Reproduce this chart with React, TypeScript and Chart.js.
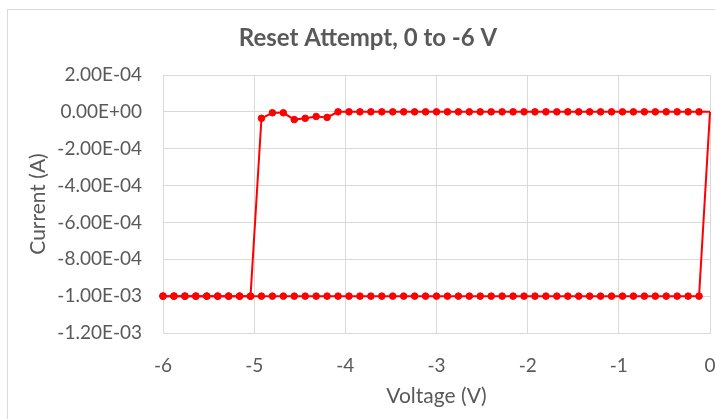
import React, { useEffect, useRef } from "react";
import { Chart, registerables } from "chart.js";

Chart.register(...registerables);

// Voltage steps of the forward sweep, 0 V down to -6 V
const sweepVoltage: number[] = [
  0, -0.12, -0.24, -0.36, -0.48, -0.6, -0.72, -0.84, -0.96, -1.08,
  -1.2, -1.32, -1.44, -1.56, -1.68, -1.8, -1.92, -2.04, -2.16, -2.28,
  -2.4, -2.52, -2.64, -2.76, -2.88, -3, -3.12, -3.24, -3.36, -3.48,
  -3.6, -3.72, -3.84, -3.96, -4.08, -4.2, -4.32, -4.44, -4.56, -4.68,
  -4.8, -4.92, -5.04, -5.16, -5.28, -5.4, -5.52, -5.64, -5.76, -5.88, -6,
];

// Current during the forward sweep (0 -> -6 V), same order as sweepVoltage
const forwardCurrent: number[] = [
  0, -1e-3, -1e-3, -1e-3, -1e-3, -1e-3, -1e-3, -1e-3, -1e-3, -1e-3,
  -1e-3, -1e-3, -1e-3, -1e-3, -1e-3, -1e-3, -1e-3, -1e-3, -1e-3, -1e-3,
  -1e-3, -1e-3, -1e-3, -1e-3, -1e-3, -1e-3, -1e-3, -1e-3, -1e-3, -1e-3,
  -1e-3, -1e-3, -1e-3, -1e-3, -1e-3, -1e-3, -1e-3, -1e-3, -1e-3, -1e-3,
  -1e-3, -1e-3, -1e-3, -1e-3, -1e-3, -1e-3, -1e-3, -1e-3, -1e-3, -1e-3, -1e-3,
];

// Voltage of the return sweep (-6 -> 0 V)
const returnVoltage: number[] = [...sweepVoltage].reverse();

// Current during the return sweep, same order as returnVoltage
const returnCurrent: number[] = [
  -1e-3, -1e-3, -1e-3, -1e-3, -1e-3, -1e-3, -1e-3, -1e-3, -1e-3,
  -3.5e-5, -5e-6, -5e-6, -4.2e-5, -3.5e-5, -2.5e-5, -3e-5, 0,
  0, 0, 0, 0, 0, 0, 0, 0, 0, 0,
  0, 0, 0, 0, 0, 0, 0, 0, 0, 0,
  0, 0, 0, 0, 0, 0, 0, 0, 0, 0,
  0, 0, 0, 0,
];

const xTicks = { min: -6, max: 0, step: 1 };
const yTicks = { min: -0.0012, max: 0.0002, step: 0.0002 };

const TEXT = "#595959";
const GRID = "#d9d9d9";
const RED = "#ff0000";
const FONT = "Lato, 'Open Sans', sans-serif";

function fmtSci(v: number): string {
  const val = Math.abs(v) < 1e-12 ? 0 : v;
  const s = val.toExponential(2);
  const [m, e] = s.split("e");
  const n = parseInt(e, 10);
  return m + "E" + (n < 0 ? "-" : "+") + String(Math.abs(n)).padStart(2, "0");
}

export default function App() {
  const ref = useRef<HTMLCanvasElement | null>(null);

  useEffect(() => {
    if (!ref.current) return;
    const toPts = (xs: number[], ys: number[]) => xs.map((x, i) => ({ x, y: ys[i] }));
    const radius = (ctx: any) => (ctx.raw && ctx.raw.x === 0 ? 0 : 3.3);
    const common = {
      borderColor: RED,
      backgroundColor: RED,
      borderWidth: 2,
      pointRadius: radius,
      pointBorderWidth: 1,
      pointBackgroundColor: RED,
      pointBorderColor: RED,
      tension: 0,
      clip: false as any,
    };
    const chart = new Chart(ref.current, {
      type: "line",
      data: {
        datasets: [
          { label: "0 to -6 V", data: toPts(sweepVoltage, forwardCurrent), ...common },
          { label: "-6 to 0 V", data: toPts(returnVoltage, returnCurrent), ...common },
        ],
      },
      options: {
        responsive: false,
        animation: false,
        layout: { padding: 0 },
        plugins: {
          legend: { display: false },
          tooltip: { enabled: false },
          title: {
            display: true,
            text: "Reset Attempt, 0 to -6 V",
            color: TEXT,
            font: { family: FONT, size: 24, weight: "bold" },
            padding: { top: 13.6, bottom: 22.6 },
          },
        },
        scales: {
          x: {
            type: "linear",
            position: "bottom",
            min: xTicks.min,
            max: xTicks.max,
            ticks: {
              stepSize: xTicks.step,
              color: TEXT,
              font: { family: FONT, size: 19 },
              padding: 0,
            },
            grid: {
              color: GRID,
              lineWidth: 1,
              drawTicks: true,
              tickLength: 21,
              tickColor: "rgba(0,0,0,0)",
            },
            border: { color: GRID },
            title: {
              display: true,
              text: "Voltage (V)",
              color: TEXT,
              font: { family: FONT, size: 21 },
              padding: { top: 0, bottom: 21.4 },
            },
            afterFit: (s: any) => {
              s.height = 97;
            },
          },
          y: {
            type: "linear",
            position: "left",
            min: yTicks.min,
            max: yTicks.max,
            ticks: {
              stepSize: yTicks.step,
              color: TEXT,
              font: { family: FONT, size: 19 },
              padding: 21,
              callback: (v: any) => fmtSci(Number(v)),
            },
            grid: { color: GRID, lineWidth: 1, drawTicks: false },
            border: { color: GRID },
            title: {
              display: true,
              text: "Current (A)",
              color: TEXT,
              font: { family: FONT, size: 21 },
              padding: { top: 17.4, bottom: 0 },
            },
            afterFit: (s: any) => {
              s.width = 155;
            },
          },
          yRight: {
            type: "linear",
            position: "right",
            ticks: { display: false },
            grid: { display: false },
            border: { display: false },
            afterFit: (s: any) => {
              s.width = 18;
            },
          },
        },
      },
    });
    return () => chart.destroy();
  }, []);

  return (
    <div
      style={{
        position: "fixed",
        left: 0,
        top: 0,
        width: 715,
        height: 419,
        overflow: "hidden",
        background: "#ffffff",
      }}
    >
      <div
        style={{
          position: "absolute",
          left: 7,
          top: 9,
          width: 760,
          height: 440,
          border: "1px solid #d9d9d9",
          background: "#ffffff",
        }}
      >
        <canvas ref={ref} width={720} height={420} style={{ display: "block" }} />
      </div>
    </div>
  );
}
